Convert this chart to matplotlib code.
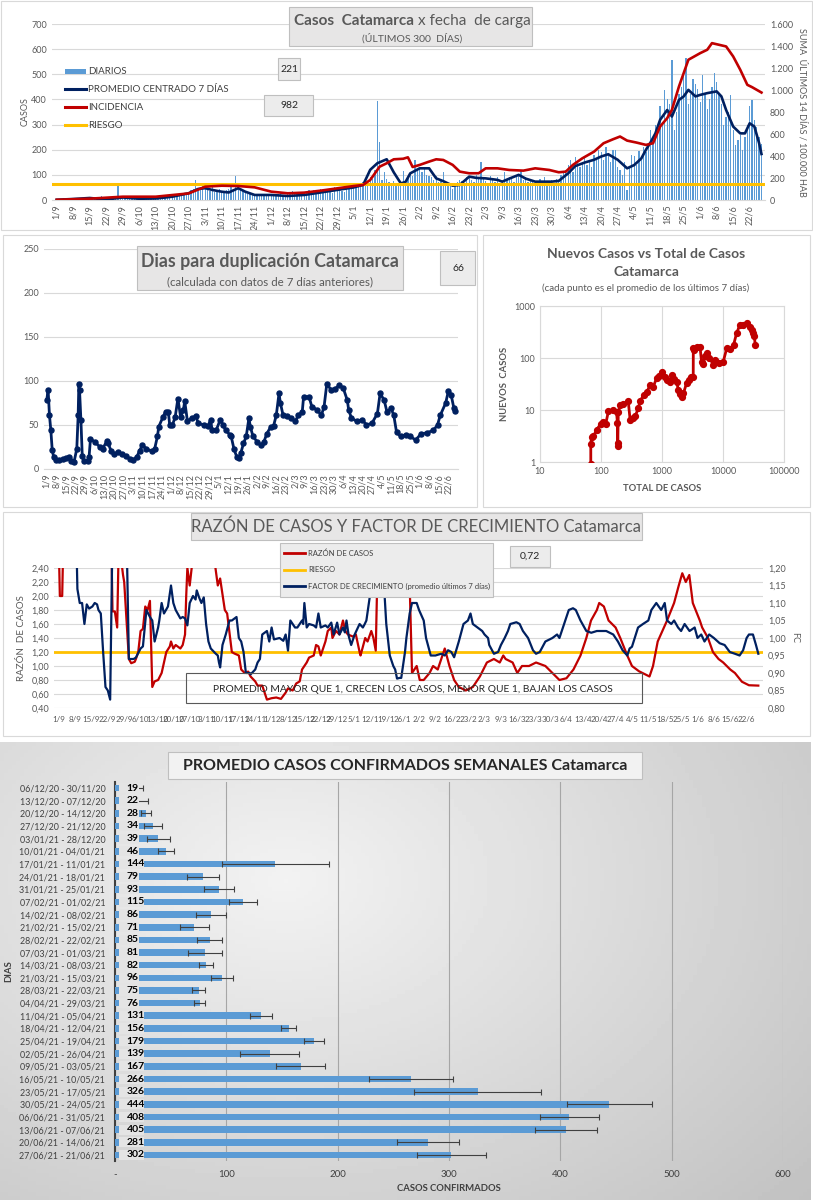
import numpy as np
import pandas as pd
import matplotlib
matplotlib.use("Agg")
import matplotlib.pyplot as plt
from matplotlib.patches import Rectangle
from matplotlib.lines import Line2D

plt.rcParams['font.family'] = ['Lato', 'DejaVu Sans']

W, H = 813, 1200
AZUL = '#002060'
ROJO = '#c00000'
ORO = '#ffc000'
BARRA = '#5b9bd5'
GRIS = '#595959'

# ---------------- datos ----------------
fechas = pd.date_range('2020-09-01', periods=300)
sem_pos = list(range(0, 300, 7))
sem_lbl = [f"{fechas[i].day}/{fechas[i].month}" for i in sem_pos]

# casos diarios (1/9/2020 - 27/6/2021)
diarios = [
    3, 5, 2, 6, 4, 8, 3,
    6, 4, 9, 5, 7, 3, 8,
    10, 7, 12, 6, 9, 14, 8,
    5, 3, 8, 6, 10, 62, 12,
    9, 12, 8, 14, 10, 7, 11,
    8, 5, 10, 6, 12, 9, 7,
    10, 14, 9, 12, 16, 11, 13,
    18, 22, 15, 25, 20, 28, 24,
    30, 38, 45, 80, 42, 50, 55,
    48, 40, 35, 52, 30, 38, 42,
    28, 35, 40, 45, 50, 42, 96,
    48, 40, 35, 30, 25, 28, 22,
    18, 22, 25, 20, 15, 24, 19,
    20, 18, 24, 22, 26, 15, 21,
    25, 28, 35, 22, 30, 26, 24,
    30, 26, 38, 32, 40, 35, 28,
    42, 30, 38, 45, 35, 28, 50,
    40, 48, 35, 30, 55, 45, 50,
    52, 48, 60, 55, 70, 80, 60,
    90, 85, 120, 394, 232, 80, 110,
    85, 70, 60, 75, 55, 60, 65,
    115, 80, 90, 110, 95, 160, 120,
    125, 110, 130, 100, 95, 90, 80,
    95, 70, 85, 110, 75, 60, 55,
    45, 60, 70, 80, 75, 65, 90,
    95, 80, 70, 100, 85, 150, 85,
    75, 60, 95, 80, 70, 90, 65,
    75, 110, 80, 90, 85, 70, 100,
    95, 115, 80, 90, 70, 75, 80,
    70, 65, 85, 75, 90, 60, 70,
    80, 65, 85, 75, 100, 110, 120,
    140, 160, 110, 170, 150, 130, 150,
    170, 140, 160, 130, 180, 165, 200,
    190, 160, 210, 180, 150, 200, 200,
    130, 120, 100, 150, 40, 130, 180,
    175, 140, 195, 160, 210, 190, 220,
    280, 250, 300, 260, 372, 310, 438,
    400, 380, 558, 280, 350, 420, 450,
    500, 564, 380, 420, 480, 460, 440,
    390, 498, 420, 360, 400, 450, 505,
    471, 420, 380, 300, 330, 350, 418,
    280, 220, 240, 260, 200, 250, 300,
    372, 398, 320, 292, 250, 221,
]
dias = np.arange(len(diarios))

# promedio centrado 7 dias (dia, casos)
promedio = [(0, 1), (7, 4), (14, 8), (21, 2), (28, 10), (35, 5), (42, 6), (49, 13),
            (56, 27), (60, 44), (63, 47), (66, 40), (70, 33), (73, 30), (77, 47),
            (80, 33), (84, 20), (91, 20), (98, 16), (105, 20), (112, 30), (119, 40),
            (126, 50), (130, 60), (133, 120), (136, 146), (140, 162), (143, 110),
            (146, 66), (148, 72), (150, 106), (154, 126), (158, 126), (161, 86),
            (164, 75), (168, 57), (171, 60), (175, 93), (178, 88), (182, 86),
            (187, 80), (189, 73), (192, 85), (196, 100), (199, 85), (203, 73),
            (207, 73), (210, 73), (213, 76), (217, 106), (220, 135), (224, 149),
            (228, 160), (231, 173), (234, 182), (238, 160), (242, 126), (245, 139),
            (248, 165), (250, 200), (252, 230), (254, 265), (256, 319), (259, 358),
            (261, 332), (264, 398), (266, 412), (268, 438), (271, 412), (273, 418),
            (276, 425), (280, 432), (282, 412), (284, 358), (287, 292), (290, 265),
            (292, 265), (294, 305), (296, 292), (298, 226), (299, 183)]

# incidencia: suma 14 dias / 100.000 hab
incidencia = [(0, 2), (14, 12), (28, 30), (42, 30), (49, 45), (56, 60), (63, 121),
              (70, 130), (77, 127), (84, 115), (91, 76), (98, 61), (105, 67),
              (112, 85), (119, 106), (126, 127), (130, 137), (133, 182), (137, 303),
              (140, 334), (143, 370), (147, 375), (149, 388), (151, 300), (154, 319),
              (158, 349), (161, 370), (164, 364), (168, 319), (171, 258), (175, 243),
              (179, 243), (182, 288), (187, 288), (192, 273), (198, 267), (203, 288),
              (209, 273), (213, 252), (216, 258), (219, 319), (223, 379), (228, 440),
              (232, 516), (236, 552), (239, 577), (242, 540), (246, 522), (250, 501),
              (253, 516), (256, 668), (259, 744), (261, 819), (264, 1032),
              (268, 1275), (273, 1335), (276, 1366), (278, 1426), (281, 1411),
              (284, 1396), (287, 1305), (290, 1184), (293, 1047), (295, 1026),
              (299, 977)]
riesgo_inc = 150

# dias para duplicacion
duplicacion = [(0, 78), (1, 90), (2, 61), (3, 44), (4, 22), (5, 14), (7, 10), (9, 10),
               (12, 11), (14, 12), (16, 14), (18, 9), (20, 8), (22, 23), (23, 61),
               (23.5, 97), (24, 90), (25, 56), (26, 15), (27, 9), (30, 9), (31, 14),
               (32, 34), (35, 31), (39, 25), (41, 23), (44, 32), (45, 29), (47, 21),
               (49, 17), (52, 19), (55, 17), (58, 15), (61, 11), (63, 10), (66, 14),
               (68, 21), (70, 27), (73, 23), (77, 20), (79, 23), (81, 37), (82, 48),
               (85, 59), (87, 65), (89, 65), (90, 50), (92, 50), (94, 59), (96, 80),
               (98, 59), (100, 67), (101, 77), (103, 54), (106, 58), (109, 60),
               (111, 52), (115, 50), (118, 49), (120, 56), (121, 44), (124, 44),
               (127, 56), (129, 50), (131, 44), (134, 39), (135, 37), (137, 23),
               (139, 14), (141, 12), (142, 18), (144, 29), (146, 37), (148, 58),
               (149, 48), (151, 37), (154, 31), (157, 27), (159, 31), (161, 40),
               (164, 48), (166, 49), (168, 61), (170, 86), (171, 75), (173, 61),
               (176, 60), (179, 58), (182, 54), (184, 61), (187, 65), (188, 82),
               (192, 82), (194, 71), (198, 67), (201, 61), (203, 71), (205, 97),
               (208, 90), (211, 91), (214, 95), (217, 92), (220, 78), (221, 67),
               (223, 58), (227, 54), (231, 56), (234, 50), (238, 52), (242, 63),
               (244, 86), (247, 78), (249, 65), (252, 69), (254, 61), (256, 42),
               (259, 37), (263, 39), (266, 37), (270, 33), (274, 40), (278, 41),
               (283, 44), (286, 50), (288, 61), (292, 75), (294, 89), (296, 84),
               (298, 69), (299, 66)]

# nuevos casos vs total (log-log)
total_casos = [68, 68, 70, 75, 85, 100, 109, 120, 132, 159, 180, 186, 188, 188, 192,
               205, 230, 280, 300, 330, 362, 410, 435, 500, 560, 640, 720, 815, 900,
               990, 1110, 1200, 1340, 1440, 1600, 1740, 1855, 2000, 2100, 2250, 2530,
               2800, 3040, 3250, 3260, 3400, 3700, 4200, 4450, 4700, 5000, 5400, 6000,
               6950, 7500, 8500, 10100, 11500, 13000, 14900, 16700, 18900, 21000,
               24500, 27800, 30000, 31400, 32500, 33900]
nuevos_casos = [0.9, 2.2, 3, 3.1, 4.2, 5.5, 6.0, 5.5, 9.4, 10, 9, 5.6, 2.3, 2.0, 9,
                12.6, 13, 14.6, 6.5, 7, 7.5, 10.9, 14.6, 19.5, 22, 30, 28, 41, 46, 55,
                44, 38, 35, 47, 40, 35, 24, 20, 18, 21, 33, 38, 44, 44, 154, 140, 160,
                166, 85, 75, 110, 123, 100, 74, 90, 80, 85, 154, 150, 178, 300, 432,
                440, 465, 400, 350, 300, 260, 178]

# razon de casos (eje izq.); 2.8 = fuera de escala
razon = [(0, 2.8), (0.5, 2.0), (1.5, 2.0), (2, 2.8), (22.5, 2.8), (23, 1.78), (24, 1.78),
         (25, 1.55), (25.7, 2.8), (27.5, 2.30), (28, 2.20), (30, 1.10), (31, 1.04),
         (32.5, 1.06), (33, 1.10), (34, 1.20), (35, 1.50), (36, 1.53), (37, 1.85),
         (38, 1.80), (39, 1.93), (40, 0.70), (41, 0.78), (42.5, 0.80), (44, 0.90),
         (45, 1.05), (46, 1.20), (47.5, 1.28), (48, 1.35), (49, 1.25), (50, 1.30),
         (52, 1.25), (53, 1.30), (54, 1.45), (54.5, 2.0), (55, 2.40), (56, 2.15),
         (57, 2.45), (58, 2.8), (66, 2.8), (67, 2.40), (68, 2.15), (69, 2.25),
         (71, 1.80), (72, 1.75), (74, 1.20), (75, 1.18), (77, 1.15), (78, 0.95),
         (79.5, 0.90), (81, 0.92), (82, 0.85), (84, 0.78), (85, 0.72), (87, 0.72),
         (89, 0.52), (91, 0.54), (93, 0.55), (95, 0.53), (97, 0.62), (98, 0.68),
         (100, 0.65), (101.5, 0.75), (103, 0.78), (104, 0.95), (106, 1.05),
         (107, 1.12), (109, 1.15), (110, 1.30), (111, 1.28), (112, 1.15), (113, 1.25),
         (114, 1.35), (115, 1.50), (116.5, 1.55), (117, 1.40), (118.5, 1.50),
         (120, 1.45), (121.5, 1.65), (122.5, 1.50), (123.6, 1.45), (125.8, 1.42),
         (127, 1.45), (128.6, 1.20), (129, 1.15), (131, 1.40), (132, 1.35),
         (133.6, 1.50), (134.5, 1.40), (135.5, 1.22), (136.5, 2.8), (149.5, 2.8),
         (151, 0.90), (153, 1.00), (154.3, 0.80), (156, 0.80), (158.5, 0.90),
         (160, 1.00), (162, 0.95), (165, 1.25), (167, 1.00), (169, 0.80), (171, 0.70),
         (174, 0.65), (177, 0.70), (180, 0.85), (183, 1.05), (186, 1.10),
         (188.5, 1.05), (190, 1.15), (191, 1.10), (194, 1.05), (196, 0.90),
         (198, 1.00), (201, 1.00), (204, 1.05), (208, 1.00), (211, 0.90), (214, 0.80),
         (217, 0.825), (220, 0.95), (223, 1.15), (225.5, 1.40), (227.5, 1.65),
         (230, 1.80), (231, 1.90), (233, 1.85), (235, 1.65), (238, 1.55), (240, 1.40),
         (243, 1.15), (245, 1.00), (248, 0.925), (251, 0.875), (252.5, 0.85),
         (254, 1.00), (256, 1.35), (260, 1.65), (263, 1.90), (265, 2.15),
         (266.5, 2.325), (268, 2.20), (269.5, 2.30), (271, 1.90), (274, 1.65),
         (275, 1.55), (277.5, 1.40), (279.6, 1.20), (282, 1.10), (284, 1.05),
         (287, 0.95), (289, 0.90), (292, 0.775), (295, 0.725), (299, 0.72)]
riesgo_razon = 1.2

# factor de crecimiento (eje der.); 1.30 = fuera de escala
factor = [(0, 1.30), (7.5, 1.30), (8, 1.14), (9, 1.10), (10, 1.10), (11, 1.04),
          (12, 1.096), (13, 1.084), (14.4, 1.09), (15.4, 1.10), (16.4, 1.096),
          (17, 1.08), (18, 1.07), (19, 0.96), (20, 0.86), (21, 0.85), (22, 0.824),
          (23, 1.30), (29, 1.30), (30, 0.94), (32, 0.94), (33, 0.944), (35, 0.97),
          (36, 0.976), (37.5, 1.08), (39, 1.06), (40, 1.05), (41, 0.99), (42.5, 1.03),
          (43, 1.05), (44, 1.10), (45, 1.07), (46.7, 1.09), (48, 1.15), (49, 1.10),
          (50, 1.08), (52, 1.056), (53, 1.06), (54, 1.056), (55, 1.036), (56, 1.10),
          (57.4, 1.12), (58.5, 1.11), (59, 1.136), (60, 1.116), (61, 1.10),
          (62, 1.116), (63, 1.04), (64, 0.99), (65, 0.97), (67, 0.956), (68, 0.95),
          (68.5, 0.93), (69, 0.916), (70, 0.98), (71.4, 1.01), (73, 1.05), (74, 1.05),
          (76, 1.06), (77, 1.00), (78, 0.99), (79, 0.96), (80, 0.90), (81.6, 0.90),
          (82, 0.896), (84, 0.91), (85, 0.93), (86, 0.94), (87, 1.01), (89, 1.02),
          (90, 0.99), (91, 1.03), (92, 0.996), (94.4, 1.00), (96, 0.992), (97, 1.01),
          (98, 0.964), (99, 1.05), (101, 1.03), (102, 1.03), (104, 1.05),
          (104.5, 1.04), (105, 1.10), (106, 1.03), (107, 1.04), (109, 1.036),
          (110, 1.03), (111, 1.07), (112, 1.03), (114, 1.036), (115, 1.03),
          (116.5, 1.044), (117.5, 1.01), (119, 1.044), (120, 1.01), (121.5, 1.03),
          (122.3, 1.016), (123, 1.05), (124, 1.004), (125, 0.98), (126.5, 1.01),
          (128.6, 1.04), (130, 1.03), (130.8, 1.04), (131.5, 1.05), (133, 1.12),
          (133.6, 1.30), (138.6, 1.30), (139.3, 1.12), (140, 1.04), (141.5, 0.95),
          (143, 0.92), (143.8, 0.91), (144.6, 0.884), (145.7, 0.886), (146.4, 0.886),
          (148, 0.96), (148.6, 1.00), (150, 1.07), (151, 1.10), (153, 1.10),
          (154, 1.08), (156, 1.05), (157, 1.00), (159, 0.95), (161, 0.95),
          (163.5, 0.955), (165, 0.95), (166.4, 0.965), (167.8, 0.96), (169, 0.945),
          (171, 0.99), (173, 1.04), (174.9, 1.05), (176, 1.07), (177, 1.04),
          (179, 1.03), (181, 1.02), (182, 1.01), (183.5, 1.00), (184, 0.98),
          (186, 0.955), (187.8, 0.96), (189, 0.98), (190.6, 1.00), (192, 1.02),
          (193, 1.04), (195.6, 1.045), (197, 1.04), (198.4, 1.02), (200.6, 1.00),
          (202.7, 0.965), (204, 0.955), (205.6, 0.96), (208, 0.99), (211, 1.00),
          (213, 1.01), (214, 1.00), (215.5, 1.03), (217, 1.06), (218, 1.08),
          (219.8, 1.085), (221, 1.08), (223, 1.05), (225.5, 1.02), (227.6, 1.015),
          (230, 1.02), (234, 1.02), (237, 1.01), (239, 0.99), (241, 0.965),
          (243, 0.95), (244, 0.97), (245, 0.975), (247.6, 1.03), (249.7, 1.04),
          (252, 1.05), (253.3, 1.08), (255.4, 1.10), (257.5, 1.08), (259, 1.10),
          (260, 1.05), (261.8, 1.04), (263, 1.05), (264.7, 1.03), (266, 1.02),
          (267.5, 1.04), (269.6, 1.02), (271.8, 1.03), (273, 1.00), (274.6, 1.01),
          (276, 0.99), (278, 1.01), (280, 1.00), (282.5, 0.985), (284.6, 0.98),
          (286.8, 0.96), (289, 0.955), (291, 0.95), (292.5, 0.965), (294, 1.00),
          (295, 1.01), (296.7, 1.01), (298, 0.98), (299, 0.955)]

# promedio semanal de casos confirmados
semanas = ["06/12/20 - 30/11/20", "13/12/20 - 07/12/20", "20/12/20 - 14/12/20",
           "27/12/20 - 21/12/20", "03/01/21 - 28/12/20", "10/01/21 - 04/01/21",
           "17/01/21 - 11/01/21", "24/01/21 - 18/01/21", "31/01/21 - 25/01/21",
           "07/02/21 - 01/02/21", "14/02/21 - 08/02/21", "21/02/21 - 15/02/21",
           "28/02/21 - 22/02/21", "07/03/21 - 01/03/21", "14/03/21 - 08/03/21",
           "21/03/21 - 15/03/21", "28/03/21 - 22/03/21", "04/04/21 - 29/03/21",
           "11/04/21 - 05/04/21", "18/04/21 - 12/04/21", "25/04/21 - 19/04/21",
           "02/05/21 - 26/04/21", "09/05/21 - 03/05/21", "16/05/21 - 10/05/21",
           "23/05/21 - 17/05/21", "30/05/21 - 24/05/21", "06/06/21 - 31/05/21",
           "13/06/21 - 07/06/21", "20/06/21 - 14/06/21", "27/06/21 - 21/06/21"]
prom_semanal = [19, 22, 28, 34, 39, 46, 144, 79, 93, 115, 86, 71, 85, 81, 82, 96, 75,
                76, 131, 156, 179, 139, 167, 266, 326, 444, 408, 405, 281, 302]
desvio_semanal = [6, 7.5, 4.5, 8.4, 10.5, 7, 48, 14, 13.5, 12.7, 13.6, 13, 11, 15.5,
                  6.3, 10, 5.5, 5, 9.6, 7, 9, 26.5, 22, 38, 57, 38, 26.5, 28, 28, 31]


# ---------------- helpers ----------------
def caja(x0, y0, x1, y1):
    return [x0 / W, 1 - y1 / H, (x1 - x0) / W, (y1 - y0) / H]


def rect(x0, y0, x1, y1, fc='none', ec='#d9d9d9', lw=0.8, z=1):
    fig.add_artist(Rectangle((x0 / W, 1 - y1 / H), (x1 - x0) / W, (y1 - y0) / H,
                             transform=fig.transFigure, fc=fc, ec=ec, lw=lw, zorder=z))


def texto(x, y, s, **kw):
    kw.setdefault('ha', 'center')
    kw.setdefault('va', 'center')
    kw.setdefault('zorder', 6)
    fig.text(x / W, 1 - y / H, s, **kw)


def linea(x0, x1, y, color, lw):
    fig.add_artist(Line2D([x0 / W, x1 / W], [1 - y / H, 1 - y / H],
                          transform=fig.transFigure, color=color, lw=lw, zorder=6))


def limpiar(ax):
    for s in ax.spines.values():
        s.set_visible(False)
    ax.tick_params(length=0, labelsize=6.5, labelcolor=GRIS)


fig = plt.figure(figsize=(W / 100, H / 100), dpi=100)
fig.patch.set_facecolor('white')

# ================= panel 1 =================
rect(1, 1, 812, 230)
ax1 = fig.add_axes(caja(52, 24, 765, 200))
ax1.set_facecolor('none')
ax1.bar(dias, diarios, width=0.55, color=BARRA, zorder=2)
pd_, pv_ = zip(*promedio)
ax1.plot(pd_, pv_, color=AZUL, lw=1.9, zorder=4)
ax1.set_xlim(-2, 300.5)
ax1.set_ylim(0, 700)
ax1.set_yticks(range(0, 701, 100))
ax1.yaxis.grid(True, color='#d9d9d9', lw=0.8)
ax1.set_axisbelow(True)
ax1.set_xticks(sem_pos)
ax1.set_xticklabels(sem_lbl, rotation=90)
limpiar(ax1)
ax1.spines['bottom'].set_visible(True)
ax1.spines['bottom'].set_color('#d9d9d9')
ax1.set_ylabel('CASOS', fontsize=6.5, color=GRIS, labelpad=1)

ax1r = ax1.twinx()
idd, iv = zip(*incidencia)
ax1r.axhline(riesgo_inc, color=ORO, lw=2.2, zorder=3)
ax1r.plot(idd, iv, color=ROJO, lw=1.9, zorder=4)
ax1r.set_ylim(0, 1600)
ax1r.set_yticks(range(0, 1601, 200))
ax1r.set_yticklabels([f"{v:,}".replace(',', '.') for v in range(0, 1601, 200)])
limpiar(ax1r)
ax1r.set_ylabel('SUMA  ÚLTIMOS 14 DÍAS / 100.000 HAB', fontsize=6.5, color=GRIS,
                rotation=270, labelpad=10)

rect(289, 7, 532, 46, fc='#e7e6e6', ec='#bfbfbf', z=5)
texto(294, 21, 'Casos  Catamarca', ha='left', fontsize=11, fontweight='bold', color=GRIS)
texto(418, 21, 'x fecha  de carga', ha='left', fontsize=11, color=GRIS)
texto(412, 38, '(ÚLTIMOS 300  DÍAS)', fontsize=7.5, color=GRIS)
rect(278, 58, 300, 80, fc='#ececec', ec='#bfbfbf', z=5)
texto(289, 69, '221', fontsize=7.5, color='#262626')
rect(264, 95, 313, 116, fc='#ececec', ec='#bfbfbf', z=5)
texto(289, 105, '982', fontsize=7.5, color='#262626')

leyenda1 = [('DIARIOS', BARRA), ('PROMEDIO CENTRADO 7 DÍAS', AZUL),
            ('INCIDENCIA', ROJO), ('RIESGO', ORO)]
for i, (lab, col) in enumerate(leyenda1):
    yy = 71 + 18 * i
    if i == 0:
        rect(65, yy - 2.5, 86, yy + 2.5, fc=col, ec='none', z=6)
    else:
        linea(65, 86, yy, col, 2.2)
    texto(88, yy, lab, ha='left', fontsize=7, color='#404040')

# ================= panel 2 =================
rect(3, 235, 477, 507)
ax2 = fig.add_axes(caja(44, 249, 458, 469))
ax2.set_facecolor('none')
dd, dv = zip(*duplicacion)
ax2.plot(dd, dv, color=AZUL, lw=2, marker='o', ms=3.6, zorder=3)
ax2.set_xlim(-2, 301)
ax2.set_ylim(0, 250)
ax2.set_yticks(range(0, 251, 50))
ax2.yaxis.grid(True, color='#d9d9d9', lw=0.8)
ax2.set_axisbelow(True)
ax2.set_xticks(sem_pos)
ax2.set_xticklabels(sem_lbl, rotation=90)
limpiar(ax2)
ax2.spines['bottom'].set_visible(True)
ax2.spines['bottom'].set_color('#d9d9d9')

rect(137, 246, 403, 290, fc='#e7e6e6', ec='#bfbfbf', z=5)
texto(270, 262, 'Dias para duplicación Catamarca', fontsize=12.8, fontweight='bold', color=GRIS)
texto(270, 282, '(calculada con datos de 7 días anteriores)', fontsize=8.3, color=GRIS)
rect(440, 251, 475, 285, fc='#ececec', ec='#bfbfbf', z=5)
texto(458, 268, '66', fontsize=7.5, color='#262626')

# ================= panel 3 =================
rect(483, 235, 810, 507)
ax3 = fig.add_axes(caja(540, 306, 784, 462))
ax3.plot(total_casos, nuevos_casos, color=ROJO, lw=2, marker='o', ms=4.2, zorder=3)
ax3.set_xscale('log')
ax3.set_yscale('log')
ax3.set_xlim(10, 100000)
ax3.set_ylim(1, 1000)
ax3.set_xticks([10, 100, 1000, 10000, 100000])
ax3.set_xticklabels(['10', '100', '1000', '10000', '100000'])
ax3.set_yticks([1, 10, 100, 1000])
ax3.set_yticklabels(['1', '10', '100', '1000'])
ax3.minorticks_off()
ax3.grid(True, color='#d9d9d9', lw=0.8)
ax3.set_axisbelow(True)
limpiar(ax3)
for s in ax3.spines.values():
    s.set_visible(True)
    s.set_color('#d9d9d9')
ax3.set_xlabel('TOTAL DE CASOS', fontsize=6.8, fontweight='bold', color=GRIS, labelpad=6)
ax3.set_ylabel('NUEVOS  CASOS', fontsize=6.8, fontweight='bold', color=GRIS, labelpad=4)
texto(646, 254, 'Nuevos Casos vs Total de Casos', fontsize=10, fontweight='bold', color=GRIS)
texto(646, 272, 'Catamarca', fontsize=10, fontweight='bold', color=GRIS)
texto(646, 288, '(cada punto es el promedio de los últimos 7 días)', fontsize=7, color=GRIS)

# ================= panel 4 =================
rect(3, 512, 810, 736)
ax4 = fig.add_axes(caja(54, 568, 763, 708))
ax4.set_facecolor('none')
rd, rv = zip(*razon)
ax4.axhline(riesgo_razon, color=ORO, lw=2, zorder=3)
ax4.plot(rd, rv, color=ROJO, lw=1.6, zorder=4)
ax4.set_xlim(-2, 301)
ax4.set_ylim(0.4, 2.4)
ax4.set_yticks(np.round(np.arange(0.4, 2.41, 0.2), 2))
ax4.set_yticklabels([f"{v:.2f}".replace('.', ',') for v in np.arange(0.4, 2.41, 0.2)])
ax4.yaxis.grid(True, color='#d9d9d9', lw=0.8)
ax4.set_axisbelow(True)
ax4.set_xticks(sem_pos)
ax4.set_xticklabels(sem_lbl)
limpiar(ax4)
ax4.tick_params(axis='x', labelsize=5.8, pad=6)
ax4.set_ylabel('RAZÓN  DE CASOS', fontsize=7, color=GRIS, labelpad=4)

ax4r = ax4.twinx()
fd, fv = zip(*factor)
ax4r.plot(fd, fv, color=AZUL, lw=1.6, zorder=4)
ax4r.set_ylim(0.8, 1.2)
ax4r.set_yticks(np.round(np.arange(0.8, 1.201, 0.05), 2))
ax4r.set_yticklabels([f"{v:.2f}".replace('.', ',') for v in np.arange(0.8, 1.201, 0.05)])
limpiar(ax4r)
ax4r.set_ylabel('FC', fontsize=6.5, color=GRIS, rotation=270, labelpad=10)

rect(191, 513, 642, 540, fc='#e7e6e6', ec='#bfbfbf', z=5)
texto(416, 527, 'RAZÓN DE CASOS Y FACTOR DE CRECIMIENTO Catamarca', fontsize=12, color=GRIS)
rect(280, 543, 493, 597, fc='#ececec', ec='#bfbfbf', z=5)
leyenda4 = [('RAZÓN DE CASOS', ROJO), ('RIESGO', ORO),
            ('FACTOR DE CRECIMIENTO (promedio últimos 7 días)', AZUL)]
for i, (lab, col) in enumerate(leyenda4):
    yy = 553 + 16.5 * i
    linea(284, 305, yy, col, 2)
    texto(308, yy, lab, ha='left', fontsize=5.5, color='#404040')
rect(510, 546, 550, 567, fc='#ececec', ec='#bfbfbf', z=5)
texto(530, 556, '0,72', fontsize=7.5, color='#262626')
rect(186, 673, 642, 703, fc='none', ec='#595959', lw=0.8, z=5)
texto(413, 689, 'PROMEDIO MAYOR QUE 1, CRECEN LOS CASOS, MENOR QUE 1, BAJAN LOS CASOS',
      fontsize=7.4, color='#262626')

# ================= panel 5 =================
axbg = fig.add_axes(caja(0, 742, 810, 1200), zorder=-2)
gx, gy = np.meshgrid(np.linspace(0, 1, 200), np.linspace(0, 1, 120))
grad = 0.95 - 0.2 * np.sqrt(((gx - 0.35) * 1.1) ** 2 + ((gy - 0.3) * 0.9) ** 2)
axbg.imshow(grad, cmap='gray', vmin=0, vmax=1, aspect='auto', extent=(0, 1, 1, 0))
axbg.set_axis_off()

ax5 = fig.add_axes(caja(115, 781.7, 783, 1161.3))
ax5.set_facecolor('none')
filas = np.arange(len(semanas))
ax5.barh(filas, prom_semanal, height=0.52, color=BARRA, zorder=3)
ax5.errorbar(prom_semanal, filas, xerr=desvio_semanal, fmt='none', ecolor='#404040',
             elinewidth=0.8, capsize=2, capthick=0.8, zorder=4)
ax5.set_xlim(0, 600)
ax5.set_ylim(len(semanas) - 0.5, -0.5)
ax5.set_xticks(range(0, 601, 100))
ax5.set_xticklabels(['-'] + [str(v) for v in range(100, 601, 100)])
ax5.set_yticks(filas)
ax5.set_yticklabels(semanas)
ax5.xaxis.grid(True, color='#a6a6a6', lw=0.8)
ax5.set_axisbelow(True)
for s in ax5.spines.values():
    s.set_visible(False)
ax5.spines['left'].set_visible(True)
ax5.spines['left'].set_color('#404040')
ax5.spines['left'].set_linewidth(1.5)
ax5.tick_params(length=0, labelsize=7, labelcolor='#404040')
ax5.tick_params(axis='y', labelsize=6.4, pad=7)
ax5.tick_params(axis='x', pad=6)
for i, v in enumerate(prom_semanal):
    fin = 26 if v >= 100 else 21.6
    ax5.add_patch(Rectangle((3.6, i - 0.4), fin - 3.6, 0.8, fc='#e4e4e4', ec='none', zorder=5))
    ax5.text(10.3, i, str(v), fontsize=7.5, fontweight='bold', color='black',
             va='center', ha='left', zorder=6)
ax5.set_xlabel('CASOS CONFIRMADOS', fontsize=6.8, fontweight='bold', color='#404040', labelpad=4)
ax5.set_ylabel('DIAS', fontsize=6.8, fontweight='bold', color='#404040', labelpad=4)

rect(168, 752, 642, 779, fc='#f2f2f2', ec='#bfbfbf', z=5)
texto(405, 766, 'PROMEDIO CASOS CONFIRMADOS SEMANALES Catamarca', fontsize=11.5,
      fontweight='bold', color='#262626')

fig.savefig('out.png', dpi=100)
